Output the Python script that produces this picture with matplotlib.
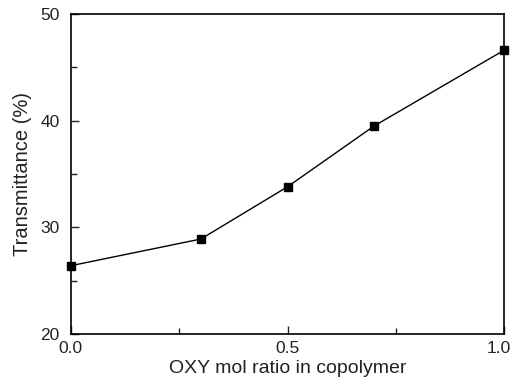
import numpy as np
import matplotlib.pyplot as plt
from matplotlib.ticker import MultipleLocator

# OXY mole fraction vs. transmittance
oxy_ratio = [0.0, 0.3, 0.5, 0.7, 1.0]
transmittance = [26.4, 28.9, 33.8, 39.5, 46.6]
x_ticks = [0.0, 0.5, 1.0]
x_ticklabels = ['0.0', '0.5', '1.0']

plt.rcParams['font.family'] = ['Liberation Sans', 'DejaVu Sans']

fig = plt.figure(figsize=(5.14, 3.85), dpi=100)
ax = fig.add_axes([0.138, 0.1325, 0.843, 0.8315])

ax.plot(oxy_ratio, transmittance, color='black', linewidth=1.0,
        marker='s', markersize=5.5, clip_on=False, zorder=3)

ax.set_xlim(0.0, 1.0)
ax.set_ylim(20, 50)
ax.set_xticks(x_ticks)
ax.set_xticklabels(x_ticklabels[:-1] + [''])
ax.xaxis.set_minor_locator(MultipleLocator(0.25))
ax.yaxis.set_major_locator(MultipleLocator(10))
ax.yaxis.set_minor_locator(MultipleLocator(5))
ax.tick_params(which='both', direction='in', top=False, right=False,
               labelsize=12.5, width=1.0, colors='#222222')
ax.tick_params(which='major', length=6)
ax.tick_params(which='minor', length=4)
ax.tick_params(axis='y', pad=8)
ax.tick_params(axis='x', pad=5)

# last x label nudged left so it stays inside the figure
ax.annotate(x_ticklabels[-1], xy=(x_ticks[-1], 0), xycoords=('data', 'axes fraction'),
            xytext=(-4, -5), textcoords='offset points', ha='center', va='top',
            fontsize=12.5, color='#222222')

for s in ax.spines.values():
    s.set_linewidth(1.2)

ax.set_xlabel('OXY mol ratio in copolymer', fontsize=14, color='#222222', labelpad=3)
ax.set_ylabel('Transmittance (%)', fontsize=14.5, color='#222222', labelpad=6)

fig.savefig('out.png', dpi=100)
